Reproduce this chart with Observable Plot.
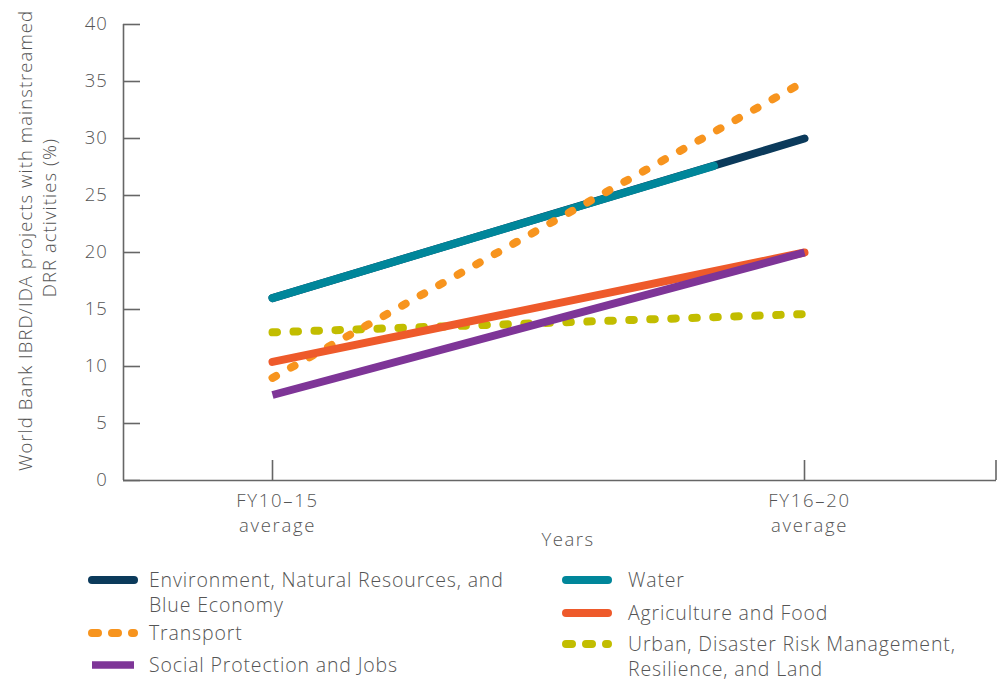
<!DOCTYPE html>
<html>
<head>
<meta charset="utf-8">
<script src="https://cdn.jsdelivr.net/npm/d3@7"></script>
<script src="https://cdn.jsdelivr.net/npm/@observablehq/plot@0.6"></script>
<style>
  body { margin: 0; background: #fff; }
  #wrap { position: relative; width: 997px; height: 681px; overflow: hidden; font-family: "Open Sans", Lato, sans-serif; font-weight: 300; color: #555; }
  #chart { position: absolute; left: 0; top: 0; }
  .leg { position: absolute; font-size: 19.5px; line-height: 25px; letter-spacing: 0.85px; white-space: nowrap; }
</style>
</head>
<body>
<div id="wrap"><div id="chart"></div></div>
<script>
// ---------- data ----------
const periodLabels = ["FY10–15\naverage", "FY16–20\naverage"];
const periodIndex = [0, 1];
const seriesNames = [
  "Environment, Natural Resources, and Blue Economy",
  "Water",
  "Urban, Disaster Risk Management, Resilience, and Land",
  "Transport",
  "Agriculture and Food",
  "Social Protection and Jobs"
];
const seriesColors = ["#0b3a5b", "#00869a", "#c2bd00", "#f7941e", "#ee5a2b", "#7e3597"];
const envValues = [16, 30];
const waterValues = [16, 27.6];
const waterIndex = [0, 0.83];        // the water line stops short in the source figure
const urbanValues = [13, 14.6];
const transportValues = [9, 35];
const agriValues = [10.4, 20];
const socialValues = [7.5, 20];
const yTicks = [0, 5, 10, 15, 20, 25, 30, 35, 40];
const yLabelLines = ["World Bank IBRD/IDA projects with mainstreamed", "DRR activities (%)"];
const xLabel = "Years";

// ---------- build ----------
const W = 997, H = 560;
const mL = 123, mR = 1, mT = 24, mB = 80;
const px0 = 272, px1 = 804;                   // pixel positions of the two periods
const unit = px1 - px0;
const xDomain = [(mL - px0) / unit, (W - mR - px0) / unit];
const yPx = (H - mB - mT) / 40;
const tickLenX = 17 / unit;                    // y-axis tick length in x units
const tickLenY = 20 / yPx;                     // x-axis tick height in y units

const valueSets = [envValues, waterValues, urbanValues, transportValues, agriValues, socialValues];
const xSets = [periodIndex, waterIndex, periodIndex, periodIndex, periodIndex, periodIndex];
const dashes = [null, null, "4.5 16.5", "4 17.2", null, null];
const caps = ["round", "round", "round", "round", "round", "butt"];

const lineMarks = seriesNames.map((name, i) => {
  const rows = valueSets[i].map((v, j) => ({series: name, x: xSets[i][j], y: v}));
  return Plot.line(rows, {
    x: "x", y: "y", stroke: seriesColors[i], strokeWidth: 8,
    strokeLinecap: caps[i], strokeLinejoin: "round",
    strokeDasharray: dashes[i]
  });
});

const axisColor = "#666";
const fs = 18.5;
const chart = Plot.plot({
  width: W, height: H,
  marginLeft: mL, marginRight: mR, marginTop: mT, marginBottom: mB,
  style: {fontFamily: "'Open Sans', Lato, sans-serif", fontWeight: 300, fontSize: "18px", color: "#555", background: "#fff"},
  x: {domain: xDomain, axis: null},
  y: {domain: [0, 40], axis: null},
  marks: [
    // y axis
    Plot.ruleX([xDomain[0]], {y1: 0, y2: 40, stroke: axisColor, strokeWidth: 1.6}),
    Plot.ruleY(yTicks, {y: d => d, x1: xDomain[0], x2: xDomain[0] + tickLenX, stroke: axisColor, strokeWidth: 1.6}),
    Plot.text(yTicks, {x: xDomain[0], y: d => d, text: d => String(d), dx: -16, textAnchor: "end", fill: "#555", fontSize: fs}),
    // x axis
    Plot.ruleY([0], {x1: xDomain[0], x2: xDomain[1], stroke: axisColor, strokeWidth: 1.6}),
    Plot.ruleX([...periodIndex, xDomain[1] - 0.5 / unit], {x: d => d, y1: 0, y2: tickLenY, stroke: axisColor, strokeWidth: 1.6}),
    Plot.text(periodIndex, {x: d => d, y: 0, text: (d, i) => periodLabels[i], dx: 5, dy: 9, lineAnchor: "top", lineHeight: 1.35, fill: "#555", fontSize: fs}),
    Plot.text([xLabel], {frameAnchor: "bottom", text: d => d, dx: 8, dy: 65, fill: "#555", fontSize: fs}),
    Plot.text([yLabelLines[0]], {frameAnchor: "top-left", text: d => d, rotate: -90, textAnchor: "middle", dx: -105, dy: 216, fill: "#555", fontSize: fs}),
    Plot.text([yLabelLines[1]], {frameAnchor: "top-left", text: d => d, rotate: -90, textAnchor: "middle", dx: -81, dy: 193, fill: "#555", fontSize: fs}),
    ...lineMarks
  ]
});
// widen the letter spacing to approach the source's wide typeface
d3.select(chart).selectAll("text").each(function() {
  const t = this.textContent;
  let ls = null;
  if (/^\d+$/.test(t)) ls = "0.8px";
  else if (t.startsWith("FY")) ls = "1.7px";
  else if (t === xLabel) ls = "1.5px";
  else if (yLabelLines.includes(t)) ls = "1.05px";
  if (ls) d3.select(this).style("letter-spacing", ls);
});
document.getElementById("chart").appendChild(chart);

// ---------- legend ----------
const wrap = document.getElementById("wrap");
const legendItems = [
  {i: 0, left: 88, top: 567, text: "Environment, Natural Resources, and<br>Blue Economy", tx: 149, lh: 25},
  {i: 3, left: 88, top: 620, text: "Transport", tx: 149, lh: 25},
  {i: 5, left: 88, top: 652, text: "Social Protection and Jobs", tx: 149, lh: 25},
  {i: 1, left: 562, top: 567, text: "Water", tx: 628, lh: 25},
  {i: 4, left: 562, top: 600, text: "Agriculture and Food", tx: 628, lh: 25},
  {i: 2, left: 562, top: 631, text: "Urban, Disaster Risk Management,<br>Resilience, and Land", tx: 628, lh: 25}
];
const ns = "http://www.w3.org/2000/svg";
legendItems.forEach(it => {
  const d = document.createElement("div");
  d.className = "leg";
  d.style.left = it.tx + "px";
  d.style.top = it.top + "px";
  d.style.lineHeight = it.lh + "px";
  d.innerHTML = it.text;
  wrap.appendChild(d);
  const i = it.i;
  const cap = caps[i];
  const sw = 51;
  const svg = document.createElementNS(ns, "svg");
  svg.setAttribute("width", sw);
  svg.setAttribute("height", 12);
  svg.style.position = "absolute";
  svg.style.left = it.left + "px";
  svg.style.top = (it.top + 7) + "px";
  const l = document.createElementNS(ns, "line");
  if (cap === "butt") { l.setAttribute("x1", 4); l.setAttribute("x2", 46); }
  else { l.setAttribute("x1", 4); l.setAttribute("x2", sw - 5); }
  l.setAttribute("y1", 6); l.setAttribute("y2", 6);
  l.setAttribute("stroke", seriesColors[i]);
  l.setAttribute("stroke-width", cap === "butt" ? 7.5 : 8);
  l.setAttribute("stroke-linecap", cap);
  if (dashes[i]) l.setAttribute("stroke-dasharray", "6 14");
  svg.appendChild(l);
  wrap.appendChild(svg);
});
</script>
</body>
</html>
